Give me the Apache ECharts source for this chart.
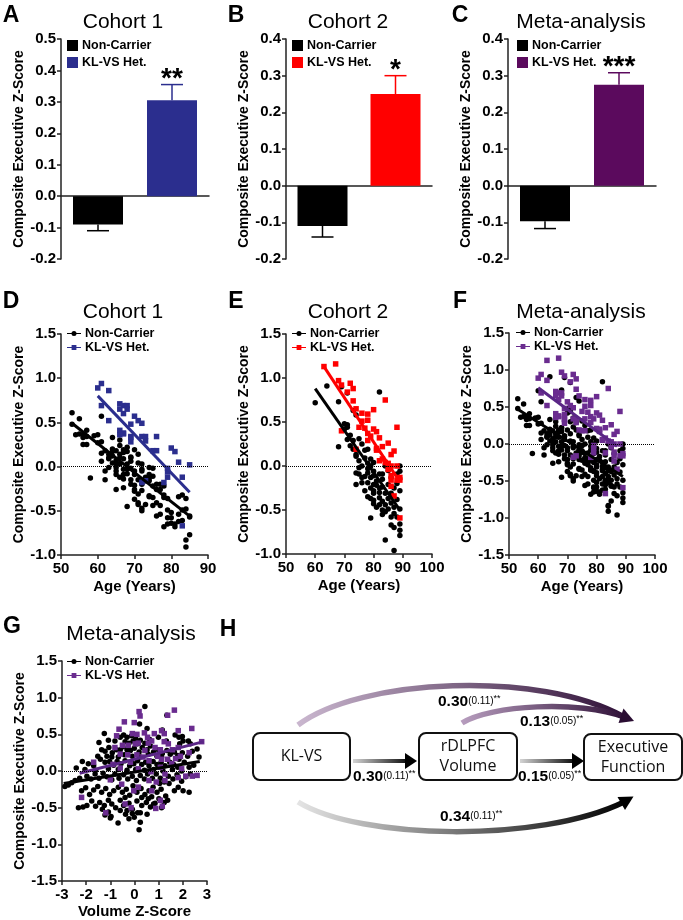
<!DOCTYPE html>
<html><head><meta charset="utf-8">
<script src="https://cdn.jsdelivr.net/npm/echarts/dist/echarts.min.js"></script>
<style>html,body{margin:0;padding:0;background:#fff}#c{width:683px;height:920px}</style>
</head><body><div id="c"></div>
<script>
// ---------- DATA ----------
const groupNames = ['Non-Carrier', 'KL-VS Het.'];
const barCategories = ['Non-Carrier', 'KL-VS Het.'];
// Panel A (Cohort 1)
const barMeanA = [-0.09, 0.305];
const barSemA = [0.02, 0.05];
const barSigA = ['', '**'];
// Panel B (Cohort 2)
const barMeanB = [-0.11, 0.25];
const barSemB = [0.03, 0.05];
const barSigB = ['', '*'];
// Panel C (Meta-analysis)
const barMeanC = [-0.097, 0.275];
const barSemC = [0.02, 0.033];
const barSigC = ['', '***'];

// Panel D (Cohort 1) [age, z]
const cohort1NonCarrier = [[53,0.61],[55,0.54],[53,0.48],[54,0.36],[55,0.37],[56,0.36],[57,0.41],[56,0.33],[57,0.34],[56,0.25],[57,0.25],[58,-0.13],[59,0.35],[60,0.36],[60,0.27],[61,0.57],[61,0.28],[61,0.15],[61,0.06],[62,-0.15],[62,0.18],[63,0.10],[63,0.14],[63,0.09],[64,0.04],[64,0.20],[64,0.33],[64,0.17],[64,0.12],[65,0.07],[65,0.03],[65,-0.01],[65,-0.05],[65,-0.26],[65,0.18],[66,0.24],[66,0.14],[66,0.30],[66,0.10],[66,0.03],[67,-0.03],[67,-0.09],[67,-0.14],[67,0.16],[67,0.19],[67,0.09],[68,0.03],[68,-0.03],[68,0.22],[68,-0.45],[68,0.17],[69,0.11],[69,0.06],[69,-0.02],[69,-0.15],[69,-0.20],[70,0.19],[70,-0.26],[70,-0.09],[70,-0.05],[70,-0.21],[70,-0.28],[71,-0.31],[71,0.14],[71,-0.15],[71,0.04],[72,0.03],[72,-0.03],[72,-0.50],[72,-0.47],[72,-0.05],[72,-0.20],[73,-0.12],[73,-0.16],[74,-0.13],[74,-0.34],[74,-0.16],[74,-0.09],[74,-0.33],[74,-0.01],[75,-0.22],[75,-0.35],[75,-0.02],[75,-0.11],[76,-0.26],[76,-0.41],[76,-0.20],[77,-0.20],[77,-0.44],[77,-0.26],[78,-0.35],[78,-0.22],[78,-0.32],[79,-0.49],[79,-0.36],[79,-0.58],[80,-0.52],[80,-0.64],[80,-0.58],[81,-0.68],[81,-0.65],[82,-0.34],[82,-0.54],[82,-0.62],[83,-0.49],[83,-0.61],[83,-0.32],[84,-0.83],[84,-0.36],[84,-0.48],[84,-0.91],[85,-0.56],[85,-0.77],[85,-0.57],[77,-0.54],[76,-0.56],[78,-0.68],[79,-0.65],[71,-0.43],[63,-0.01],[62,-0.05],[69,0.10],[68,-0.08],[66,-0.12],[65,-0.09],[67,-0.24],[72,-0.27],[73,-0.43],[75,-0.44],[71,-0.41],[70,-0.37]];
const cohort1KLVS = [[60,0.89],[61,0.94],[63,0.86],[61,0.69],[63,0.52],[66,0.71],[67,0.69],[68,0.69],[66,0.65],[67,0.60],[68,0.65],[70,0.57],[71,0.52],[72,0.49],[69,0.48],[66,0.41],[67,0.38],[66,0.36],[67,0.37],[69,0.33],[69,0.28],[72,0.34],[73,0.34],[73,0.29],[76,0.34],[75,0.18],[76,0.18],[80,0.21],[81,0.17],[82,0.05],[85,0.02],[79,-0.02],[79,-0.06],[79,-0.12],[83,-0.12],[78,-0.18],[72,-0.18],[73,-0.16],[83,-0.67],[69,0.34]];
const cohort1FitNonCarrier = [[53,0.49],[85,-0.56]];
const cohort1FitKLVS = [[60,0.80],[85,-0.29]];

// Panel E (Cohort 2)
const cohort2NonCarrier = [[60,0.72],[64,0.91],[68,0.73],[69,0.90],[71,0.83],[73,0.63],[74,0.58],[82,0.84],[70,0.48],[71,0.47],[70,0.42],[71,0.44],[68,0.22],[71,0.30],[72,0.35],[73,0.29],[75,0.31],[76,0.25],[77,0.18],[78,0.19],[74,0.13],[74,0.11],[75,0.06],[74,-0.08],[74,-0.21],[75,-0.09],[76,-0.13],[77,-0.12],[78,0.03],[78,-0.03],[78,-0.08],[79,0.08],[79,0.00],[80,0.04],[80,-0.06],[80,-0.11],[81,-0.17],[81,-0.22],[80,-0.21],[78,-0.19],[79,-0.25],[80,-0.31],[82,-0.25],[82,-0.30],[82,-0.36],[83,-0.40],[83,-0.24],[84,-0.31],[84,-0.44],[85,-0.37],[85,-0.21],[85,-0.49],[86,-0.42],[86,-0.31],[87,-0.54],[87,-0.47],[88,-0.38],[88,-0.20],[88,-0.58],[89,-0.49],[89,-0.28],[89,-0.66],[89,-0.73],[89,-0.79],[86,-0.67],[87,-0.70],[84,-0.84],[87,-0.96],[79,-0.59],[80,-0.43],[83,-0.55],[84,-0.52],[86,-0.58],[82,-0.09],[83,-0.15],[83,-0.09],[84,0.00],[85,-0.05],[86,-0.13],[87,-0.25],[89,-0.06],[89,0.00],[88,-0.09],[76,-0.19],[75,-0.02],[77,-0.28],[78,-0.35],[79,-0.37],[80,-0.39],[81,-0.47],[82,-0.44],[83,-0.50],[72,0.23],[73,0.19],[77,0.09],[76,0.00],[79,-0.13],[80,-0.28]];
const cohort2KLVS = [[63,1.13],[67,1.16],[68,0.97],[69,0.92],[71,0.84],[72,0.94],[73,0.88],[73,0.74],[74,0.65],[76,0.60],[78,0.59],[78,0.52],[80,0.64],[84,0.75],[88,0.44],[75,0.44],[77,0.43],[78,0.37],[78,0.29],[80,0.42],[81,0.39],[82,0.32],[69,0.40],[74,0.19],[81,0.20],[81,0.18],[83,0.22],[85,0.26],[87,0.17],[83,0.08],[84,0.04],[85,-0.04],[86,-0.11],[86,0.00],[88,0.00],[89,-0.13],[89,-0.16],[88,-0.16],[87,-0.34],[89,-0.59],[86,-0.23],[76,0.51],[79,0.34],[82,0.06],[85,0.03],[86,0.13],[86,-0.16]];
const cohort2FitNonCarrier = [[60,0.88],[89,-0.50]];
const cohort2FitKLVS = [[63,1.13],[89,-0.18]];

// Panel F (Meta-analysis, both cohorts pooled)
const metaAgeNonCarrier = cohort1NonCarrier.concat(cohort2NonCarrier);
const metaAgeKLVS = cohort1KLVS.concat(cohort2KLVS);
const metaAgeFitNonCarrier = [[53,0.47],[89,-0.44]];
const metaAgeFitKLVS = [[60,0.76],[87,-0.03]];

// Panel G (Meta-analysis, volume z-score vs executive z-score)
const metaVolNonCarrier = [[0.43,0.88],[1.34,0.76],[0.21,0.64],[-1.25,0.51],[0.52,0.58],[1.15,0.56],
[-0.59,0.46],[-0.45,0.49],[-0.31,0.46],[-0.12,0.48],[0.05,0.44],[0.24,0.42],[-0.39,0.40],[-0.23,0.38],[-0.06,0.41],[0.13,0.37],[0.43,0.38],[0.63,0.43],[0.99,0.46],[1.32,0.41],[1.68,0.49],[1.84,0.46],[1.98,0.47],[2.01,0.41],[1.87,0.37],[2.23,0.41],[2.31,0.37],[-1.47,0.39],[-1.08,0.42],[-0.81,0.41],
[-1.36,0.29],[-1.22,0.27],[-1.06,0.32],[-0.92,0.25],[-0.75,0.29],[-0.59,0.29],[-0.48,0.33],[-0.31,0.29],[-0.17,0.28],[-0.01,0.31],[0.19,0.26],[0.32,0.32],[0.52,0.29],[0.66,0.34],[0.79,0.26],[0.99,0.29],[1.15,0.24],[1.34,0.28],[1.48,0.23],[1.65,0.26],[1.79,0.21],[1.98,0.25],[2.20,0.20],[2.39,0.27],[2.59,0.30],[2.67,0.19],[-1.52,0.20],[-1.14,0.20],[-0.94,0.19],[-0.67,0.19],[-0.42,0.22],[-0.09,0.20],[0.24,0.19],[0.57,0.23],[0.93,0.20],[1.84,0.16],[1.12,0.19],
[-2.16,0.13],[-1.91,0.10],[-1.69,0.07],[-1.41,0.16],[-1.22,0.12],[-1.03,0.13],[-0.86,0.08],[-0.72,0.13],[-0.56,0.10],[-0.39,0.14],[-0.20,0.07],[-0.03,0.10],[0.13,0.14],[0.30,0.09],[0.46,0.12],[0.60,0.07],[0.77,0.13],[0.93,0.09],[1.10,0.12],[1.26,0.07],[1.46,0.12],[1.62,0.09],[1.79,0.05],[2.06,0.12],[2.26,0.05],[2.45,0.08],[-2.41,0.04],[-2.05,0.02],[-1.61,0.01],[-1.08,0.03],[-0.67,0.02],[-0.31,0.01],[0.05,0.02],[0.41,0.01],[0.79,0.02],[1.18,0.00],[1.57,0.02],[1.95,0.00],
[-2.88,-0.21],[-2.74,-0.19],[-2.60,-0.16],[-2.46,-0.13],[-2.27,-0.10],[-1.97,-0.07],[-1.80,-0.11],[-1.63,-0.04],[-1.47,-0.10],[-1.30,-0.03],[-1.14,-0.08],[-0.94,-0.12],[-0.81,-0.04],[-0.64,-0.10],[-0.45,-0.05],[-0.28,-0.11],[-0.09,-0.07],[0.08,-0.13],[0.24,-0.06],[0.41,-0.11],[0.54,-0.04],[0.74,-0.10],[0.90,-0.04],[1.07,-0.10],[1.23,-0.15],[1.40,-0.07],[1.59,-0.11],[1.76,-0.05],[1.95,-0.14],[2.12,-0.08],[2.31,-0.04],[1.04,-0.17],[1.43,-0.17],
[-2.19,-0.27],[-2.02,-0.23],[-1.86,-0.32],[-1.69,-0.26],[-1.52,-0.21],[-1.36,-0.29],[-1.19,-0.24],[-1.03,-0.32],[-0.86,-0.27],[-0.67,-0.22],[-0.50,-0.29],[-0.34,-0.25],[-0.20,-0.33],[-0.06,-0.20],[0.10,-0.29],[0.27,-0.24],[0.43,-0.32],[0.60,-0.27],[0.77,-0.22],[0.93,-0.29],[1.10,-0.25],[1.29,-0.34],[1.65,-0.27],[1.81,-0.22],[2.01,-0.27],[2.26,-0.29],[-0.39,-0.36],[0.30,-0.36],[0.71,-0.35],
[-2.32,-0.50],[-2.13,-0.49],[-1.97,-0.47],[-1.77,-0.41],[-1.61,-0.48],[-1.44,-0.43],[-1.25,-0.47],[-1.08,-0.40],[-0.94,-0.45],[-0.78,-0.50],[-0.59,-0.40],[-0.45,-0.47],[-0.23,-0.44],[-0.09,-0.52],[0.10,-0.41],[0.30,-0.47],[0.49,-0.43],[0.66,-0.49],[0.85,-0.44],[1.01,-0.38],[1.23,-0.43],[1.37,-0.40],[-1.33,-0.52],[-0.31,-0.54],[0.57,-0.38],[1.12,-0.50],
[-1.08,-0.56],[-0.97,-0.62],[-0.37,-0.59],[-0.23,-0.65],[-0.01,-0.63],[0.13,-0.57],[0.24,-0.57],[-0.09,-0.58],[0.24,-0.70],[0.19,-0.80],[-0.68,-0.71],[0.52,-0.59],[0.79,-0.45],[-1.00,-0.64],[-0.59,-0.54],[-1.22,-0.60]];
const metaVolKLVS = [[0.19,0.81],[0.23,0.75],[-0.01,0.66],[-0.42,0.67],[1.65,0.83],[2.37,0.58],[1.81,0.55],[1.37,0.76],[-0.64,0.57],[-0.74,0.48],[-0.09,0.51],[0.10,0.50],[0.41,0.52],[0.71,0.41],[0.82,0.51],[1.12,0.55],[1.23,0.51],[1.23,0.40],[0.54,0.46],[0.57,0.38],[0.16,0.38],[-0.50,0.35],[-0.26,0.35],[0.03,0.37],[0.43,0.28],[0.85,0.32],[1.07,0.29],[1.40,0.37],[1.57,0.29],[1.81,0.32],[2.26,0.25],[2.78,0.40],[-0.81,0.32],[-0.59,0.23],[-0.28,0.22],[0.10,0.22],[0.35,0.19],[0.60,0.14],[0.96,0.20],[1.12,0.16],[1.37,0.16],[1.70,0.17],[1.90,0.20],[-1.69,0.12],[-0.89,0.09],[-0.59,0.04],[-0.17,0.12],[0.16,0.03],[0.68,-0.01],[1.07,0.05],[1.26,-0.04],[1.54,0.10],[1.95,0.03],[2.12,-0.07],[2.39,-0.07],[2.59,-0.06],[0.60,-0.13],[0.90,-0.15],[1.26,-0.13],[-2.19,-0.36],[-1.19,-0.57],[-0.39,-0.45],[-0.03,-0.27],[0.16,-0.22],[0.71,-0.27],[0.88,-0.51],[1.07,-0.40],[1.15,-0.48],[-0.14,-0.50],[-1.00,-0.12],[-0.53,-0.18],[1.81,-0.09]];
const metaVolFitNonCarrier = [[-2.93,-0.17],[2.70,0.13]];
const metaVolFitKLVS = [[-2.27,-0.03],[2.86,0.40]];

// Panel H (mediation model)
const pathNodes = ['KL-VS', 'rDLPFC\nVolume', 'Executive\nFunction'];
const pathCoef = ['0.30', '0.15', '0.30', '0.13', '0.34'];
const pathSE = ['(0.11)', '(0.05)', '(0.11)', '(0.05)', '(0.11)'];
const pathSig = ['**', '**', '**', '**', '**'];

// ---------- STYLE ----------
const F = '"Liberation Sans", Arial, Helvetica, sans-serif';
const FD = '"Open Sans", "Liberation Sans", sans-serif';
const BLACK = '#000000', BLUE = '#2b2e8e', RED = '#ff0000', PURPLE_BAR = '#5b0a5d', PURPLE = '#6a2c8f', PURPLE_LINE = '#5a2686';
const AX = '#222';

const grids = [
  {left: 61, top: 39, width: 148, height: 220},   // A
  {left: 286, top: 39, width: 146, height: 220},  // B
  {left: 508, top: 39, width: 148, height: 220},  // C
  {left: 61, top: 334, width: 147, height: 221},  // D
  {left: 286, top: 334, width: 146, height: 220}, // E
  {left: 509, top: 333, width: 146, height: 222}, // F
  {left: 62, top: 661, width: 145, height: 221}   // G
];

function yAxisOf(gi, min, max, step) {
  return {type: 'value', gridIndex: gi, min: min, max: max, interval: step,
    name: 'Composite Executive Z-Score', nameLocation: 'middle', nameGap: 35, nameMoveOverlap: false,
    nameTextStyle: {fontFamily: F, fontWeight: 'bold', fontSize: 14, color: '#000'},
    axisLine: {show: true, onZero: false, lineStyle: {color: AX, width: 1.5}},
    axisTick: {show: true, length: 4, lineStyle: {color: AX, width: 1.5}},
    axisLabel: {fontFamily: F, fontWeight: 'bold', fontSize: 15, color: '#000', margin: 5, formatter: v => v.toFixed(1)},
    splitLine: {show: false}};
}
function catAxisOf(gi) {
  return {type: 'category', gridIndex: gi, data: barCategories,
    axisLine: {show: true, onZero: true, lineStyle: {color: AX, width: 1.5}},
    axisTick: {show: false}, axisLabel: {show: false}, splitLine: {show: false}};
}
function xValAxisOf(gi, min, max, step, name, gap) {
  return {type: 'value', gridIndex: gi, min: min, max: max, interval: step,
    name: name, nameLocation: 'middle', nameGap: gap, nameMoveOverlap: false,
    nameTextStyle: {fontFamily: F, fontWeight: 'bold', fontSize: 15, color: '#000'},
    axisLine: {show: true, onZero: false, lineStyle: {color: AX, width: 1.5}},
    axisTick: {show: true, length: 4, lineStyle: {color: AX, width: 1.5}},
    axisLabel: {fontFamily: F, fontWeight: 'bold', fontSize: 15, color: '#000', margin: 6, formatter: v => String(Math.round(v))},
    splitLine: {show: false}};
}

function barSeries(gi, means, colors) {
  return groupNames.map((n, i) => ({
    type: 'bar', name: n, xAxisIndex: gi, yAxisIndex: gi, barWidth: 50, barGap: '-100%',
    data: means.map((v, j) => j === i ? v : '-'), itemStyle: {color: colors[i]}, silent: true, z: 2
  }));
}
function errSeries(gi, means, sems, sigs, colors) {
  return {
    type: 'custom', name: 'err' + gi, xAxisIndex: gi, yAxisIndex: gi, silent: true, z: 3,
    encode: {x: 0, y: 1},
    data: means.map((m, i) => [i, m, sems[i]]),
    renderItem: function (params, api) {
      const m = api.value(1), s = api.value(2);
      const end = m >= 0 ? m + s : m - s;
      const p0 = api.coord([api.value(0), m]);
      const p1 = api.coord([api.value(0), end]);
      const c = colors[params.dataIndex];
      const ch = [
        {type: 'line', shape: {x1: p0[0], y1: p0[1], x2: p1[0], y2: p1[1]}, style: {stroke: c, lineWidth: 1.5}},
        {type: 'line', shape: {x1: p1[0] - 11, y1: p1[1], x2: p1[0] + 11, y2: p1[1]}, style: {stroke: c, lineWidth: 1.5}}
      ];
      const t = sigs[params.dataIndex];
      if (t) ch.push({type: 'text', style: {text: t, x: p1[0], y: p1[1] - 5, align: 'center', verticalAlign: 'middle', font: 'bold 28px ' + F, fill: '#000'}});
      return {type: 'group', children: ch};
    }
  };
}
function zeroLine() {
  return {silent: true, symbol: ['none', 'none'], label: {show: false},
    lineStyle: {type: 'dotted', color: '#000', width: 1}, data: [{yAxis: 0}]};
}
function scatterSeries(gi, data, symbol, color, size, withZero) {
  const s = {type: 'scatter', name: symbol === 'circle' ? groupNames[0] : groupNames[1], xAxisIndex: gi, yAxisIndex: gi,
    data: data, symbol: symbol, symbolSize: size, itemStyle: {color: color, opacity: 1}, silent: true, z: 3};
  if (withZero) s.markLine = zeroLine();
  return s;
}
function fitSeries(gi, name, data, color) {
  return {type: 'line', name: name + ' fit', xAxisIndex: gi, yAxisIndex: gi, data: data,
    showSymbol: false, symbol: 'none', lineStyle: {color: color, width: 3}, silent: true, z: 4};
}

const ICON_SQ = 'rect';
const ICON_DOT = 'path://M0,2.5L14,2.5L14,3.5L0,3.5Z M9.5,3A2.5,2.5,0,1,1,4.5,3A2.5,2.5,0,1,1,9.5,3Z';
const ICON_SQL = 'path://M0,2.5L14,2.5L14,3.5L0,3.5Z M4.6,0.6L9.4,0.6L9.4,5.4L4.6,5.4Z';

function legendOf(left, top, colors, scatter) {
  return {left: left, top: top, orient: 'vertical', padding: 0, selectedMode: false,
    itemGap: scatter ? 1 : 4, itemWidth: scatter ? 14 : 11, itemHeight: scatter ? 5 : 11,
    textStyle: {fontFamily: F, fontWeight: 'bold', fontSize: 12.5, color: '#000', padding: [0, 0, 0, -1]},
    data: groupNames.map((n, i) => ({name: n, icon: scatter ? (i === 0 ? ICON_DOT : ICON_SQL) : ICON_SQ, itemStyle: {color: colors[i], borderWidth: 0}}))};
}

function titleOf(text, x, y, size, bold) {
  return {text: text, left: x, top: y, textAlign: 'center', padding: 0,
    textStyle: {fontFamily: F, fontSize: size, fontWeight: bold ? 'bold' : 'normal', color: '#000'}};
}

// ---------- PANEL H graphics ----------
function lg(c0, c1) {
  return new echarts.graphic.LinearGradient(0, 0, 1, 0, [{offset: 0, color: c0}, {offset: 1, color: c1}]);
}
function coefText(i, x, y) {
  return {type: 'text', x: x, y: y, silent: true,
    style: {text: '{b|' + pathCoef[i] + '}{s|' + pathSE[i] + '}{t|' + pathSig[i] + '}', verticalAlign: 'middle', align: 'left',
      rich: {
        b: {fontFamily: F, fontWeight: 'bold', fontSize: 15.5, fill: '#000'},
        s: {fontFamily: F, fontSize: 10, fill: '#000', padding: [0, 0, 2, 0]},
        t: {fontFamily: F, fontSize: 9, fill: '#000', padding: [0, 0, 7, 0]}
      }}};
}
function box(x, y, w, h, label, cx) {
  return [
    {type: 'rect', silent: true, shape: {x: x, y: y, width: w, height: h, r: 7}, style: {fill: '#fff', stroke: '#111', lineWidth: 2}},
    {type: 'text', silent: true, x: cx, y: y + h / 2, style: {text: label, align: 'center', verticalAlign: 'middle', fontFamily: FD, fontSize: 16, lineHeight: 20, fill: '#111'}}
  ];
}
const diagram = [].concat(
  [{type: 'bezierCurve', silent: true, shape: {x1: 298, y1: 725, cpx1: 360, cpy1: 678, cpx2: 540, cpy2: 670, x2: 624, y2: 717},
    style: {fill: null, stroke: lg('#cbb8d0', '#2e0f36'), lineWidth: 5.5}},
   {type: 'bezierCurve', silent: true, shape: {x1: 462, y1: 723, cpx1: 490, cpy1: 705, cpx2: 580, cpy2: 700, x2: 624, y2: 717},
    style: {fill: null, stroke: lg('#b99fc0', '#2e0f36'), lineWidth: 5.5}},
   {type: 'polygon', silent: true, shape: {points: [[634, 721], [618.5, 723], [623.5, 708.5]]}, style: {fill: '#2a0d32'}},
   {type: 'bezierCurve', silent: true, shape: {x1: 298, y1: 802, cpx1: 360, cpy1: 840, cpx2: 540, cpy2: 843, x2: 624, y2: 802},
    style: {fill: null, stroke: lg('#e6e6e6', '#000'), lineWidth: 5.5}},
   {type: 'polygon', silent: true, shape: {points: [[633.5, 796.5], [625, 810], [617.5, 797]]}, style: {fill: '#000'}},
   {type: 'line', silent: true, shape: {x1: 353, y1: 761, x2: 408, y2: 761}, style: {stroke: lg('#dddddd', '#000'), lineWidth: 4}},
   {type: 'polygon', silent: true, shape: {points: [[405, 753], [417, 761], [405, 769]]}, style: {fill: '#000'}},
   {type: 'line', silent: true, shape: {x1: 520, y1: 761, x2: 575, y2: 761}, style: {stroke: lg('#dddddd', '#000'), lineWidth: 4}},
   {type: 'polygon', silent: true, shape: {points: [[572, 753], [584, 761], [572, 769]]}, style: {fill: '#000'}}],
  box(253, 733, 97, 47, pathNodes[0], 301.5),
  box(419, 733, 98, 47, pathNodes[1], 468),
  box(584, 734, 98, 46, pathNodes[2], 633),
  [coefText(0, 353, 777), coefText(1, 518, 777), coefText(2, 438, 702), coefText(3, 520, 722), coefText(4, 440, 817)]
);

// ---------- OPTION ----------
const option = {
  animation: false,
  backgroundColor: '#fff',
  title: [
    titleOf('A', 11, 4, 23, true), titleOf('B', 236, 4, 23, true), titleOf('C', 460, 4, 23, true),
    titleOf('D', 11, 290, 23, true), titleOf('E', 236, 290, 23, true), titleOf('F', 460, 290, 23, true),
    titleOf('G', 12, 615, 23, true), titleOf('H', 228, 618, 23, true),
    titleOf('Cohort 1', 123, 12, 21), titleOf('Cohort 2', 348, 12, 21), titleOf('Meta-analysis', 581, 12, 21),
    titleOf('Cohort 1', 123, 302, 21), titleOf('Cohort 2', 348, 302, 21), titleOf('Meta-analysis', 581, 302, 21),
    titleOf('Meta-analysis', 131, 624, 21)
  ],
  legend: [
    legendOf(67, 39, [BLACK, BLUE], false),
    legendOf(292, 39, [BLACK, RED], false),
    legendOf(517, 39, [BLACK, PURPLE_BAR], false),
    legendOf(67, 327, [BLACK, BLUE], true),
    legendOf(292, 327, [BLACK, RED], true),
    legendOf(516, 326, [BLACK, PURPLE], true),
    legendOf(67, 655, [BLACK, PURPLE], true)
  ],
  grid: grids,
  xAxis: [
    catAxisOf(0), catAxisOf(1), catAxisOf(2),
    xValAxisOf(3, 50, 90, 10, 'Age (Years)', 24),
    xValAxisOf(4, 50, 100, 10, 'Age (Years)', 24),
    xValAxisOf(5, 50, 100, 10, 'Age (Years)', 24),
    xValAxisOf(6, -3, 3, 1, 'Volume Z-Score', 23)
  ],
  yAxis: [
    yAxisOf(0, -0.2, 0.5, 0.1), yAxisOf(1, -0.2, 0.4, 0.1), yAxisOf(2, -0.2, 0.4, 0.1),
    yAxisOf(3, -1.0, 1.5, 0.5), yAxisOf(4, -1.0, 1.5, 0.5), yAxisOf(5, -1.5, 1.5, 0.5), yAxisOf(6, -1.5, 1.5, 0.5)
  ],
  series: [].concat(
    barSeries(0, barMeanA, [BLACK, BLUE]), [errSeries(0, barMeanA, barSemA, barSigA, [BLACK, BLUE])],
    barSeries(1, barMeanB, [BLACK, RED]), [errSeries(1, barMeanB, barSemB, barSigB, [BLACK, RED])],
    barSeries(2, barMeanC, [BLACK, PURPLE_BAR]), [errSeries(2, barMeanC, barSemC, barSigC, [BLACK, PURPLE_BAR])],
    [scatterSeries(3, cohort1NonCarrier, 'circle', BLACK, 5.5, true), scatterSeries(3, cohort1KLVS, 'rect', BLUE, 5.5, false),
     fitSeries(3, groupNames[0], cohort1FitNonCarrier, BLACK), fitSeries(3, groupNames[1], cohort1FitKLVS, BLUE)],
    [scatterSeries(4, cohort2NonCarrier, 'circle', BLACK, 5.5, true), scatterSeries(4, cohort2KLVS, 'rect', RED, 5.5, false),
     fitSeries(4, groupNames[0], cohort2FitNonCarrier, BLACK), fitSeries(4, groupNames[1], cohort2FitKLVS, RED)],
    [scatterSeries(5, metaAgeNonCarrier, 'circle', BLACK, 5.5, true), scatterSeries(5, metaAgeKLVS, 'rect', PURPLE, 5.5, false),
     fitSeries(5, groupNames[0], metaAgeFitNonCarrier, BLACK), fitSeries(5, groupNames[1], metaAgeFitKLVS, PURPLE_LINE)],
    [scatterSeries(6, metaVolNonCarrier, 'circle', BLACK, 5.5, true), scatterSeries(6, metaVolKLVS, 'rect', PURPLE, 5.5, false),
     fitSeries(6, groupNames[0], metaVolFitNonCarrier, BLACK), fitSeries(6, groupNames[1], metaVolFitKLVS, PURPLE_LINE)]
  ),
  graphic: diagram
};

const chart = echarts.init(document.getElementById('c'), null, {renderer: 'canvas'});
chart.setOption(option);
</script>
</body></html>
